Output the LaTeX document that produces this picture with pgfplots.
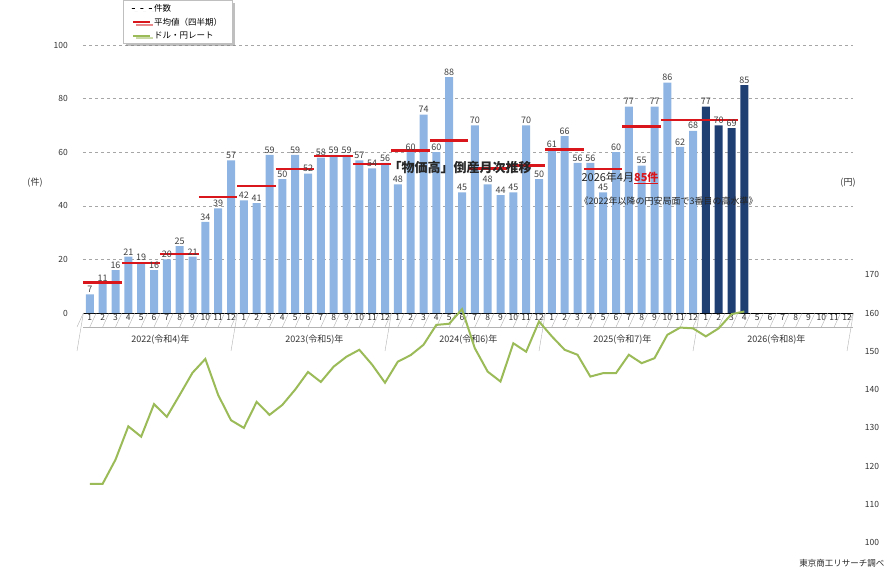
\documentclass[border=0pt]{standalone}
\usepackage{pgfplots}
\pgfplotsset{compat=1.18}
\usetikzlibrary{shadows}
\usepackage{fontspec}
\setmainfont{Noto Sans CJK JP}
\definecolor{barL}{HTML}{8DB4E2}
\definecolor{barD}{HTML}{1F3F73}
\definecolor{avg}{HTML}{D9161C}
\definecolor{fx}{HTML}{9BBB59}
\begin{document}
\begin{tikzpicture}[x=1pt,y=1pt]
\path (0,0) rectangle (894,438);
\begin{axis}[at={(65,100)},anchor=south west,scale only axis,width=770pt,height=268pt,
 xmin=0.5,xmax=60.5,ymin=0,ymax=100,ytick={0,20,...,100},
 /pgf/number format/assume math mode=true,
 ymajorgrids,grid style={dashed,gray!70},
 axis y line*=left,axis x line*=bottom,
 y axis line style={draw=none},
 ytick style={draw=none},
 xtick={1,...,60},xtick style={draw=none},
 xticklabels={1,2,3,4,5,6,7,8,9,10,11,12,1,2,3,4,5,6,7,8,9,10,11,12,1,2,3,4,5,6,7,8,9,10,11,12,1,2,3,4,5,6,7,8,9,10,11,12,1,2,3,4,5,6,7,8,9,10,11,12},
 ticklabel style={font=\fontsize{8.5}{9}\selectfont,text=black!80},
 xticklabel style={inner sep=1pt},
 yticklabel style={xshift=-12pt},
 unbounded coords=jump,
 legend style={at={(0.052,1.168)},anchor=north west,font=\fontsize{8.5}{10}\selectfont,draw=gray!50,fill=white,
   drop shadow,row sep=1pt,inner xsep=8pt},
 legend cell align=left,
 clip=false,
 lbl/.style={nodes near coords,every node near coord/.style={font=\fontsize{9}{10}\selectfont,text=black!75,inner sep=1.5pt}},
]
\addplot[ybar,bar width=8pt,bar shift=0pt,fill=barL,draw=none,lbl] coordinates {
(1,7)(2,11)(3,16)(4,21)(5,19)(6,16)(7,20)(8,25)(9,21)(10,34)(11,39)(12,57)
(13,42)(14,41)(15,59)(16,50)(17,59)(18,52)(19,58)(20,59)(21,59)(22,57)(23,54)(24,56)
(25,48)(26,60)(27,74)(28,60)(29,88)(30,45)(31,70)(32,48)(33,44)(34,45)(35,70)(36,50)
(37,61)(38,66)(39,56)(40,56)(41,45)(42,60)(43,77)(44,55)(45,77)(46,86)(47,62)(48,68)};
\addlegendentry{件数}
\addplot[ybar,bar width=8pt,bar shift=0pt,fill=barD,draw=none,forget plot,lbl] coordinates {
(49,77)(50,70)(51,69)(52,85)};
\addplot[avg,line width=2.5pt] coordinates {
(0.5,11.33)(3.5,11.33)(3.5,nan)(3.5,18.67)(6.5,18.67)(6.5,nan)(6.5,22)(9.5,22)(9.5,nan)(9.5,43.33)(12.5,43.33)(12.5,nan)
(12.5,47.33)(15.5,47.33)(15.5,nan)(15.5,53.67)(18.5,53.67)(18.5,nan)(18.5,58.67)(21.5,58.67)(21.5,nan)(21.5,55.67)(24.5,55.67)(24.5,nan)
(24.5,60.67)(27.5,60.67)(27.5,nan)(27.5,64.33)(30.5,64.33)(30.5,nan)(30.5,54)(33.5,54)(33.5,nan)(33.5,55)(36.5,55)(36.5,nan)
(36.5,61)(39.5,61)(39.5,nan)(39.5,53.67)(42.5,53.67)(42.5,nan)(42.5,69.67)(45.5,69.67)(45.5,nan)(45.5,72)(48.5,72)(48.5,nan)
(48.5,72)(51.5,72)};
\addlegendentry{平均値（四半期）}
\addlegendimage{fx,line width=2pt}
\addlegendentry{ドル・円レート}
\pgfplotsinvokeforeach{0,...,60}{\draw[gray!60] (axis cs:#1+0.5,0) -- ++(0,-14pt);}
\pgfplotsinvokeforeach{0,12,24,36,48,60}{\draw[gray!60] (axis cs:#1+0.5,0) -- ++(0,-38pt);}
\draw[gray!60] ([yshift=-14pt]axis cs:0.5,0) -- ([yshift=-14pt]axis cs:60.5,0);
\node[font=\fontsize{9}{10}\selectfont,text=black!80] at ([yshift=-27pt]axis cs:6.5,0) {2022(令和4)年};
\node[font=\fontsize{9}{10}\selectfont,text=black!80] at ([yshift=-27pt]axis cs:18.5,0) {2023(令和5)年};
\node[font=\fontsize{9}{10}\selectfont,text=black!80] at ([yshift=-27pt]axis cs:30.5,0) {2024(令和6)年};
\node[font=\fontsize{9}{10}\selectfont,text=black!80] at ([yshift=-27pt]axis cs:42.5,0) {2025(令和7)年};
\node[font=\fontsize{9}{10}\selectfont,text=black!80] at ([yshift=-27pt]axis cs:54.5,0) {2026(令和8)年};
\end{axis}
\begin{axis}[at={(65,100)},anchor=south west,scale only axis,width=770pt,height=268pt,
 xmin=0.5,xmax=60.5,ymin=100,ymax=170,ytick={100,110,...,170},
 /pgf/number format/assume math mode=true,
 axis y line*=right,axis x line=none,y axis line style={draw=none},ytick style={draw=none},
 ticklabel style={font=\fontsize{8.5}{9}\selectfont,text=black!80},
 yticklabel style={xshift=8pt},
]
\addplot[fx,line width=2pt] coordinates {
(1,115.4)(2,115.4)(3,121.7)(4,130.4)(5,127.7)(6,136.2)(7,132.9)(8,138.6)(9,144.4)(10,148)(11,138.6)(12,132)
(13,130)(14,136.8)(15,133.4)(16,136)(17,140)(18,144.6)(19,142)(20,146)(21,148.6)(22,150.4)(23,146.5)(24,141.8)
(25,147.3)(26,149)(27,151.7)(28,156.9)(29,157.2)(30,161)(31,150.8)(32,144.7)(33,142.1)(34,152.1)(35,149.9)(36,157.8)
(37,153.9)(38,150.4)(39,149.1)(40,143.4)(41,144.3)(42,144.3)(43,149.1)(44,146.9)(45,148.2)(46,154.3)(47,156.2)(48,156)
(49,153.9)(50,156)(51,159.7)(52,160.4)};
\end{axis}
\node[font=\fontsize{9}{10}\selectfont,text=black!80] at (35,398) {(件)};
\node[font=\fontsize{9}{10}\selectfont,text=black!80] at (848,398) {(円)};
\node[font=\bfseries\fontsize{13}{15}\selectfont,text=black!85] at (460,413) {「物価高」倒産月次推移};
\node[font=\fontsize{11}{13}\selectfont,text=black!85,anchor=west] at (578,403) {2026年4月{\bfseries\color{avg}\underline{85件}}};
\node[font=\fontsize{9}{11}\selectfont,text=black!85,anchor=west] at (576,380) {《2022年以降の円安局面で3番目の高水準》};
\node[font=\fontsize{8.5}{10}\selectfont,text=black!85,anchor=east] at (888,18) {東京商工リサーチ調べ};
\end{tikzpicture}
\end{document}
